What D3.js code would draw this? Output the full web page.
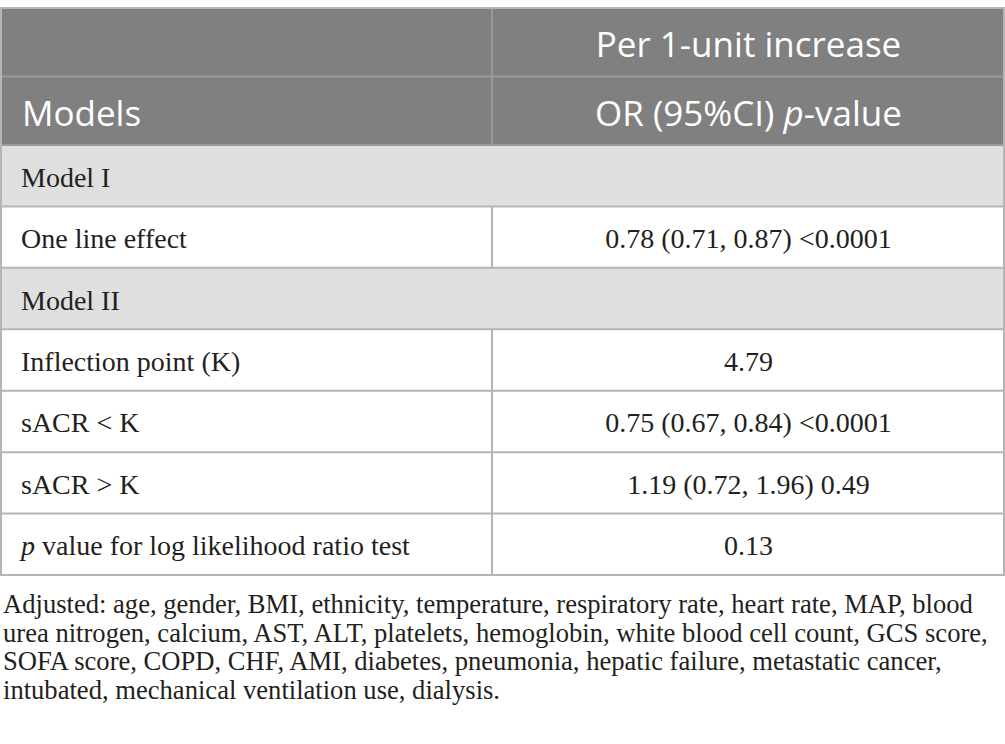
<!DOCTYPE html>
<html>
<head>
<meta charset="utf-8">
<script src="https://cdn.jsdelivr.net/npm/d3@7"></script>
<style>
  body { margin: 0; background: #fff; }
  svg { display: block; }
</style>
</head>
<body>
<div id="table"></div>
<script>
// header rows
var headerRows = [
    [{ t: "" }, { t: "Per 1-unit increase" }],
    [{ t: "Models" }, { t: "OR (95%CI) " }, { t: "p", i: true }, { t: "-value" }]
];
// body rows: label, value, shaded section row
var rowLabels = ["Model I", "One line effect", "Model II", "Inflection point (K)",
    "sACR < K", "sACR > K", "p value for log likelihood ratio test"];
var rowValues = ["", "0.78 (0.71, 0.87) <0.0001", "", "4.79",
    "0.75 (0.67, 0.84) <0.0001", "1.19 (0.72, 1.96) 0.49", "0.13"];
var sectionRows = [true, false, true, false, false, false, false];
var footnote = [
    "Adjusted: age, gender, BMI, ethnicity, temperature, respiratory rate, heart rate, MAP, blood",
    "urea nitrogen, calcium, AST, ALT, platelets, hemoglobin, white blood cell count, GCS score,",
    "SOFA score, COPD, CHF, AMI, diabetes, pneumonia, hepatic failure, metastatic cancer,",
    "intubated, mechanical ventilation use, dialysis."
];

var width = 1005, height = 744;
var colSplit = 492;
var lineColor = "#b5b5b5";
var serif = "'Liberation Serif', 'DejaVu Serif', serif";
var sans = "'Open Sans', Lato, sans-serif";

var svg = d3.select("#table").append("svg")
    .attr("width", width)
    .attr("height", height);

var yHead = d3.scaleBand().domain(d3.range(headerRows.length)).range([8, 145]);
var yBody = d3.scaleBand().domain(d3.range(rowLabels.length)).range([145, 575]);

// header background
svg.append("rect")
    .attr("x", 0).attr("y", yHead.range()[0])
    .attr("width", width).attr("height", yHead.range()[1] - yHead.range()[0])
    .attr("fill", "#7f807f");

// body backgrounds
svg.selectAll(".rowbg")
    .data(rowLabels)
    .enter().append("rect")
    .attr("class", "rowbg")
    .attr("x", 0)
    .attr("y", (d, i) => yBody(i))
    .attr("width", width)
    .attr("height", yBody.bandwidth())
    .attr("fill", (d, i) => sectionRows[i] ? "#e0dfe0" : "#ffffff");

// horizontal lines
var hLines = yHead.domain().map(yHead).concat(yBody.domain().map(yBody)).concat([575]);
svg.selectAll(".hl")
    .data(hLines)
    .enter().append("line")
    .attr("x1", 0).attr("x2", width)
    .attr("y1", d => d).attr("y2", d => d)
    .attr("stroke", (d, i) => i < 3 ? "#9a9a9a" : lineColor)
    .attr("stroke-width", 2);

// vertical lines: header + non-section rows
svg.append("line")
    .attr("x1", colSplit).attr("x2", colSplit)
    .attr("y1", yHead.range()[0]).attr("y2", yHead.range()[1])
    .attr("stroke", "#9a9a9a").attr("stroke-width", 2);
svg.selectAll(".vl")
    .data(rowLabels.map((d, i) => i).filter(i => !sectionRows[i]))
    .enter().append("line")
    .attr("x1", colSplit).attr("x2", colSplit)
    .attr("y1", d => yBody(d)).attr("y2", d => yBody(d) + yBody.bandwidth())
    .attr("stroke", lineColor).attr("stroke-width", 2);
// outer border
svg.append("rect")
    .attr("x", 1).attr("y", 8)
    .attr("width", width - 2).attr("height", 575 - 8)
    .attr("fill", "none")
    .attr("stroke", lineColor).attr("stroke-width", 2);

// header text
var colCenter = (colSplit + width) / 2;
svg.append("text")
    .attr("x", colCenter)
    .attr("y", yHead(0) + 49)
    .attr("text-anchor", "middle")
    .attr("font-family", sans).attr("font-size", 35)
    .attr("fill", "#fff")
    .text(headerRows[0][1].t);
svg.append("text")
    .attr("x", 22)
    .attr("y", yHead(1) + 49)
    .attr("font-family", sans).attr("font-size", 35)
    .attr("fill", "#fff")
    .text(headerRows[1][0].t);
var h2 = svg.append("text")
    .attr("x", colCenter)
    .attr("y", yHead(1) + 49)
    .attr("text-anchor", "middle")
    .attr("font-family", sans).attr("font-size", 35)
    .attr("fill", "#fff");
h2.selectAll("tspan")
    .data(headerRows[1].slice(1))
    .enter().append("tspan")
    .attr("font-style", d => d.i ? "italic" : null)
    .text(d => d.t);

// body text
var labels = svg.selectAll(".lbl")
    .data(rowLabels)
    .enter().append("text")
    .attr("class", "lbl")
    .attr("x", 21)
    .attr("y", (d, i) => yBody(i) + yBody.bandwidth() / 2 + 11)
    .attr("font-family", serif).attr("font-size", 28)
    .attr("fill", "#231f20");
labels.each(function(d) {
    var t = d3.select(this);
    if (d.indexOf("p value") === 0) {
        t.append("tspan").attr("font-style", "italic").text("p");
        t.append("tspan").text(d.slice(1));
    } else {
        t.text(d);
    }
});

svg.selectAll(".val")
    .data(rowValues)
    .enter().append("text")
    .attr("x", colCenter)
    .attr("y", (d, i) => yBody(i) + yBody.bandwidth() / 2 + 11)
    .attr("text-anchor", "middle")
    .attr("font-family", serif).attr("font-size", 28)
    .attr("fill", "#231f20")
    .text(d => d);

// footnote
svg.selectAll(".fn")
    .data(footnote)
    .enter().append("text")
    .attr("x", 3)
    .attr("y", (d, i) => 613 + i * 28.5)
    .attr("font-family", serif).attr("font-size", 26.6)
    .attr("fill", "#231f20")
    .text(d => d);
</script>
</body>
</html>
